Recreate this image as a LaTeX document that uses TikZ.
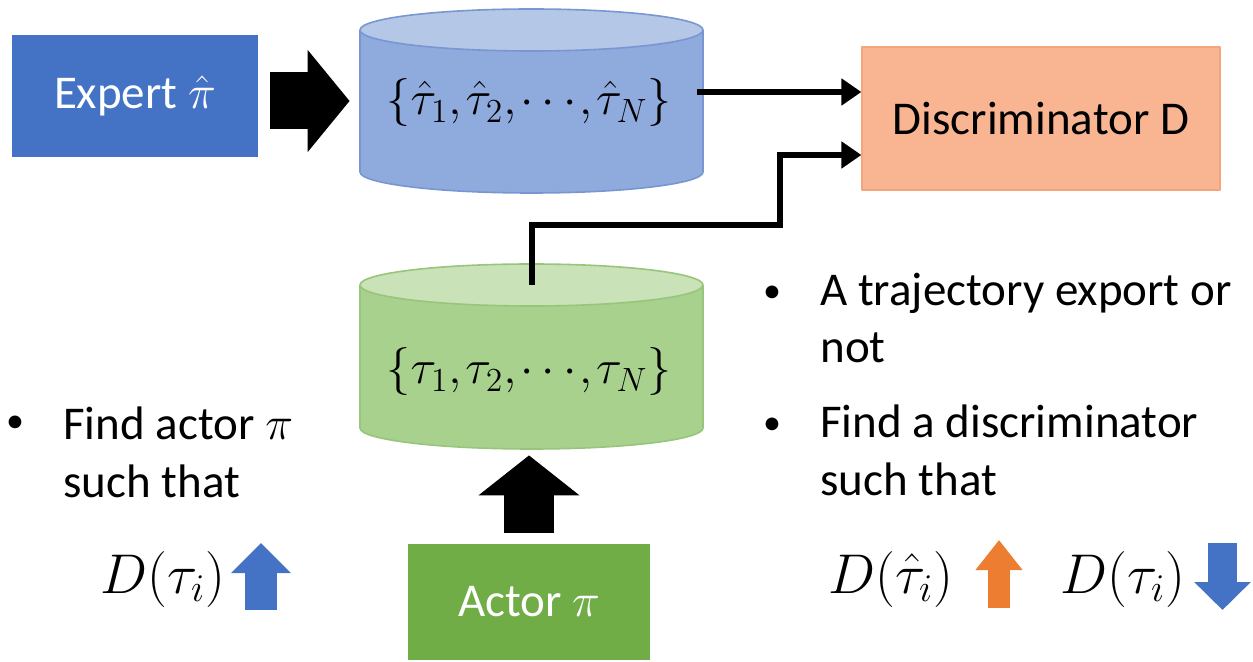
\RequirePackage{fix-cm}
\documentclass[tikz,border=0pt]{standalone}
\usepackage{fontspec}
\setmainfont{Carlito}
\usetikzlibrary{arrows.meta,calc}
\definecolor{expblue}{HTML}{4472C4}
\definecolor{bodyblue}{HTML}{8FAADC}
\definecolor{lidblue}{HTML}{B4C7E7}
\definecolor{rimblue}{HTML}{7A96D2}
\definecolor{bodygreen}{HTML}{A9D18E}
\definecolor{lidgreen}{HTML}{C9E2B8}
\definecolor{rimgreen}{HTML}{98C47C}
\definecolor{actgreen}{HTML}{70AD47}
\definecolor{discfill}{HTML}{F9B592}
\definecolor{discrim}{HTML}{F4A57E}
\definecolor{uporange}{HTML}{ED7D31}
\begin{document}
\begin{tikzpicture}[x=0.5pt, y=-0.5pt, line join=round,
	txt/.style={font=\fontsize{23.5}{28.5}\selectfont, inner sep=0pt},
	eq/.style={font=\fontsize{28}{33}\selectfont, inner sep=0pt},
	seteq/.style={font=\fontsize{24}{30}\selectfont, inner sep=0pt},
	dot/.style={font=\fontsize{18}{20}\selectfont, inner sep=0pt},
	box/.style={txt, inner sep=0pt},
	link/.style={line width=3pt, line join=miter, -{Triangle[length=10pt,width=13pt]}},
	bigarrow/.style={line width=28.5pt, -{Triangle[length=21pt,width=50pt]}},
	smallup/.style={line width=16pt, -{Triangle[length=15pt,width=29pt]}}]
	\useasboundingbox (0,0) rectangle (1253,662);
	% boxes
	\node[box, fill=expblue, text=white, minimum width=123pt, minimum height=61pt] (expert) at (135,96) {Expert $\hat{\pi}$};
	\node[box, fill=discfill, draw=discrim, line width=0.6pt, minimum width=179pt, minimum height=71.5pt] (disc) at (1041,118.5) {Discriminator D};
	\node[box, fill=actgreen, text=white, minimum width=121pt, minimum height=58pt] (actor) at (529,602) {Actor $\pi$};
	% cylinders
	\foreach \n/\yt/\yb/\body/\lid/\rim in {expcyl/30/172/bodyblue/lidblue/rimblue, actcyl/285/428/bodygreen/lidgreen/rimgreen}{
		\fill[\body] (360,\yt) -- (360,\yb) arc[start angle=180, end angle=0, x radius=171.5, y radius=21] -- (703,\yt) -- cycle;
		\draw[\rim, line width=0.8pt] (360,\yt) -- (360,\yb) arc[start angle=180, end angle=0, x radius=171.5, y radius=21] -- (703,\yt);
		\draw[\rim, fill=\lid, line width=0.8pt] (531.5,\yt) ellipse[x radius=171.5, y radius=21];
		\coordinate (\n-lid) at (531.5,\yt);
		\node[minimum width=171.5pt, minimum height={(\yb-\yt+42)*0.5pt}, inner sep=0pt] (\n) at (531.5,{(\yt+\yb)/2}) {};
	}
	\node[seteq] (expset) at (529,103) {$\{\hat{\tau}_1,\mkern-1.5mu\hat{\tau}_2,\mkern-1.5mu\cdots\mkern-2mu,\mkern-1.5mu\hat{\tau}_N\}$};
	\node[seteq] (actset) at (529,372) {$\{\tau_1,\mkern-1.5mu\tau_2,\mkern-1.5mu\cdots\mkern-2mu,\mkern-1.5mu\tau_N\}$};
	% connectors
	\coordinate (din1) at ($(disc.west)+(0,-26.5)$);
	\coordinate (din2) at ($(disc.west)+(0,36.5)$);
	\coordinate (bend) at (780,225);
	\draw[bigarrow, shorten <=6pt, shorten >=5pt] (expert.east |- expcyl) -- (expcyl.west);
	\draw[bigarrow, line width=25pt, -{Triangle[length=20pt,width=49.5pt]}, shorten <=5.5pt, shorten >=3pt] (actor.north) -- (actor.north |- actcyl.south);
	\draw[link, shorten <=-3pt] (expcyl.east |- din1) -- (din1);
	\draw[link] (actcyl-lid) |- (bend) |- (din2);
	% bullet texts
	\node[dot] (b1) at (15,424) {\textbullet};
	\node[txt, anchor=base west, align=left] (goalA) at (63,497) {Find actor $\pi$\\such that};
	\node[dot] (b2) at (772,294) {\textbullet};
	\node[txt, anchor=base west, align=left] (taskD) at (820,363) {A trajectory export or\\not};
	\node[dot] (b3) at (772,426) {\textbullet};
	\node[txt, anchor=base west, align=left] (goalD) at (820,495) {Find a discriminator\\such that};
	% objectives
	\node[eq, anchor=base west] (fA) at (100,593) {$D(\tau_i)$};
	\node[eq, anchor=base west] (fD1) at (828,593) {$D(\hat{\tau}_i)$};
	\node[eq, anchor=base west] (fD2) at (1060,593) {$D(\tau_i)$};
	\draw[smallup, expblue] (261,610) -- (261,543);
	\draw[smallup, uporange, line width=11pt, -{Triangle[length=15pt,width=22.5pt]}] (999,608) -- (999,540);
	\draw[smallup, expblue, line width=14.5pt, -{Triangle[length=14pt,width=27.5pt]}] (1222.5,543) -- (1222.5,610);
\end{tikzpicture}
\end{document}
